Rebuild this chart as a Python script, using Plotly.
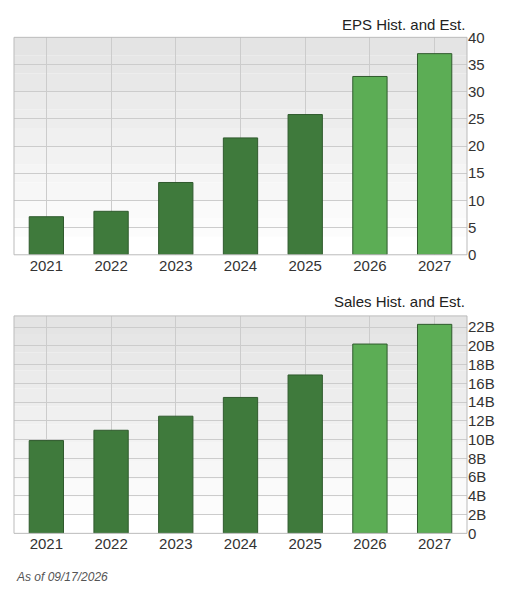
import plotly.graph_objects as go
from plotly.subplots import make_subplots

years = ["2021", "2022", "2023", "2024", "2025", "2026", "2027"]
eps = [7.0, 8.0, 13.3, 21.5, 25.8, 32.8, 37.0]
sales = [9.9e9, 11.0e9, 12.5e9, 14.5e9, 16.9e9, 20.2e9, 22.3e9]
sales_ticks = [0, 2e9, 4e9, 6e9, 8e9, 10e9, 12e9, 14e9, 16e9, 18e9, 20e9, 22e9]
sales_labels = ["0", "2B", "4B", "6B", "8B", "10B", "12B", "14B", "16B", "18B", "20B", "22B"]
is_est = [False, False, False, False, False, True, True]

dark, light = "#3f7a3c", "#5cad55"
colors = [light if e else dark for e in is_est]


def py(p):
    # pixel row in the target -> paper y (corrects for page offset)
    return 1 - ((p - 17.7) / 0.97) / 607


fig = make_subplots(rows=2, cols=1, vertical_spacing=0.1)
fig.add_trace(go.Bar(x=years, y=eps, marker_color=colors, width=0.53,
                     marker_line=dict(color="#2f5a2d", width=1)), row=1, col=1)
fig.add_trace(go.Bar(x=years, y=sales, marker_color=colors, width=0.53,
                     marker_line=dict(color="#2f5a2d", width=1)), row=2, col=1)

# gradient-ish plot backgrounds
shapes = []
for top, bot in [(38, 255), (316, 533)]:
    n = 12
    for i in range(n):
        y0 = top + (bot - top) * i / n
        y1 = top + (bot - top) * (i + 1) / n
        g = int(228 + (255 - 228) * i / (n - 1))
        shapes.append(dict(type="rect", xref="paper", yref="paper", layer="below",
                           x0=0, x1=1, y0=py(y1), y1=py(y0),
                           fillcolor=f"rgb({g},{g},{g})", line_width=0))
    shapes.append(dict(type="rect", xref="paper", yref="paper", layer="above",
                       x0=0, x1=1, y0=py(bot), y1=py(top),
                       line=dict(color="#bbbbbb", width=1)))

axis_font = dict(family="Liberation Sans, Arial", size=15, color="#333")
title_font = dict(family="Liberation Sans, Arial", size=15, color="#222")
fig.update_layout(
    width=523, height=607, showlegend=False,
    margin=dict(l=6, r=64, t=0, b=0),
    paper_bgcolor="white", plot_bgcolor="rgba(0,0,0,0)",
    bargap=0.47, shapes=shapes,
    xaxis=dict(domain=[0, 1], showgrid=True, gridcolor="#cccccc", tickfont=axis_font, ticks=""),
    xaxis2=dict(domain=[0, 1], showgrid=True, gridcolor="#cccccc", tickfont=axis_font, ticks=""),
    yaxis=dict(domain=[py(255), py(38)], range=[0, 40], dtick=5, side="right",
               gridcolor="#cccccc", tickfont=axis_font, zeroline=False),
    yaxis2=dict(domain=[py(533), py(316)], range=[0, 23.2e9], side="right",
                tickvals=sales_ticks, ticktext=sales_labels,
                gridcolor="#cccccc", tickfont=axis_font, zeroline=False),
    annotations=[
        dict(text="EPS Hist. and Est.", xref="paper", yref="paper", x=1.0, y=py(25),
             xanchor="right", yanchor="middle", showarrow=False, font=title_font),
        dict(text="Sales Hist. and Est.", xref="paper", yref="paper", x=1.0, y=py(302),
             xanchor="right", yanchor="middle", showarrow=False, font=title_font),
        dict(text="<i>As of 09/17/2026</i>", xref="paper", yref="paper", x=0.0, y=py(577),
             xanchor="left", yanchor="middle", showarrow=False,
             font=dict(family="Liberation Sans, Arial", size=12, color="#555")),
    ],
)

fig.write_html("out.html")
